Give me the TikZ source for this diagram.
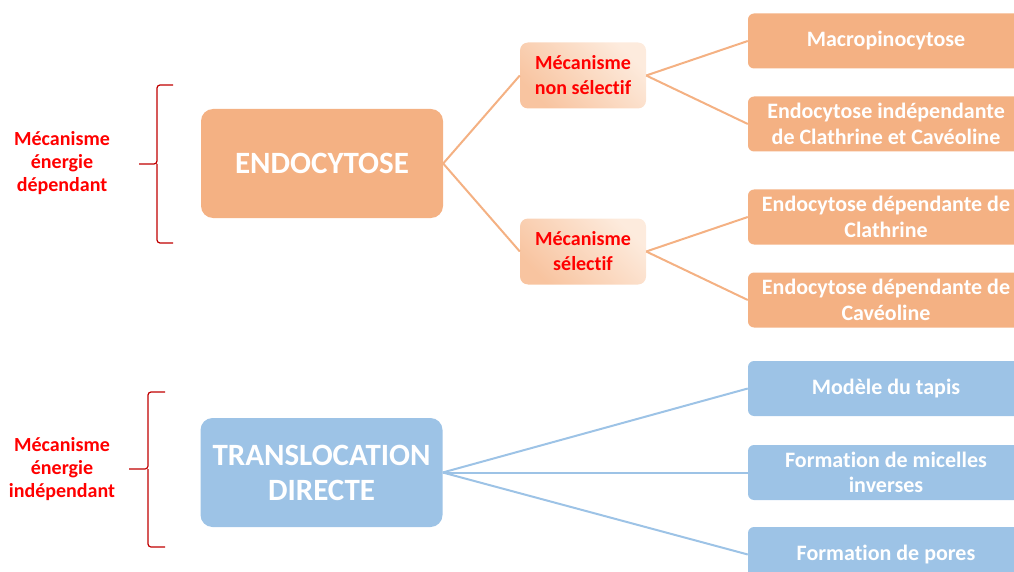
\documentclass[tikz,border=0pt]{standalone}
\usepackage{fontspec}
\setmainfont{Carlito}[Ligatures=NoCommon]
\usepackage{tikz}
\usetikzlibrary{trees}
\usepackage{xcolor}

\definecolor{endofill}{HTML}{F4B183}
\definecolor{transfill}{HTML}{9DC3E6}
\definecolor{mecaA}{HTML}{F8C4A0}
\definecolor{mecaB}{HTML}{FDEBDD}
\definecolor{bracered}{HTML}{C00000}

\tikzset{
  rootbox/.style={rounded corners=12pt, minimum width=242pt, minimum height=109pt,
    text=white, align=center, font=\bfseries\fontsize{31}{35}\selectfont},
  mecabox/.style={rounded corners=8pt, minimum width=126pt, minimum height=66pt,
    left color=mecaA, right color=mecaB, shading angle=135,
    text=red, align=center, font=\bfseries\fontsize{20}{25}\selectfont},
  leafbox/.style={rounded corners=6pt, minimum width=276pt, minimum height=55pt,
    text=white, align=center, font=\bfseries\fontsize{22}{25.5}\selectfont},
  energylabel/.style={text=red, align=center, font=\bfseries\fontsize{20}{23}\selectfont},
  bracket/.style={draw=bracered, line width=1.2pt, rounded corners=3pt}
}

\begin{document}
\begin{tikzpicture}
  \useasboundingbox (0,0) rectangle (1014pt,-572pt);
  \clip (0,0) rectangle (1014pt,-572pt);

  % endocytose
  \node[rootbox, fill=endofill] (endo) at (322pt,-163.5pt) {ENDOCYTOSE}
    [grow'=right, level distance=261pt,
     level 1/.style={sibling distance=176pt},
     level 2/.style={sibling distance=83pt, level distance=303pt,
       every child node/.style={yshift=-7pt}},
     edge from parent/.style={draw=endofill, line width=2pt},
     edge from parent path={(\tikzparentnode.east) -- (\tikzchildnode.west)}]
    child {node[mecabox] (nonsel) {Mécanisme\\non sélectif}
      child {node[leafbox, fill=endofill] (macro) {Macropinocytose}}
      child {node[leafbox, fill=endofill] (indep) {Endocytose indépendante\\de Clathrine et Cavéoline}}
    }
    child {node[mecabox] (sel) {Mécanisme\\sélectif}
      child {node[leafbox, fill=endofill] (clath) {Endocytose dépendante de\\Clathrine}}
      child {node[leafbox, fill=endofill] (caveo) {Endocytose dépendante de\\Cavéoline}}
    };

  % translocation
  \node[rootbox, fill=transfill] (trans) at (321.5pt,-472.5pt) {TRANSLOCATION\\DIRECTE}
    [grow'=right, level distance=564.5pt, sibling distance=84pt,
     edge from parent/.style={draw=transfill, line width=2pt},
     edge from parent path={(\tikzparentnode.east) -- (\tikzchildnode.west)}]
    child {node[leafbox, fill=transfill] (tapis) {Modèle du tapis}}
    child {node[leafbox, fill=transfill] (micel) {Formation de micelles\\inverses}}
    child {node[leafbox, fill=transfill, yshift=2pt] (pores) {Formation de pores}};

  % accolades
  \node[energylabel] (dep) at (62pt,-163pt) {Mécanisme\\énergie\\dépendant};
  \node[energylabel] (indepl) at (62pt,-469pt) {Mécanisme\\énergie\\indépendant};
  \draw[bracket] (173pt,-85pt) -- (157pt,-85pt) -- (157pt,-164pt) -- (139pt,-164pt)
    (157pt,-164pt) -- (157pt,-243pt) -- (173pt,-243pt);
  \draw[bracket] (165pt,-392pt) -- (148pt,-392pt) -- (148pt,-469pt) -- (129pt,-469pt)
    (148pt,-469pt) -- (148pt,-547pt) -- (165pt,-547pt);
\end{tikzpicture}
\end{document}
